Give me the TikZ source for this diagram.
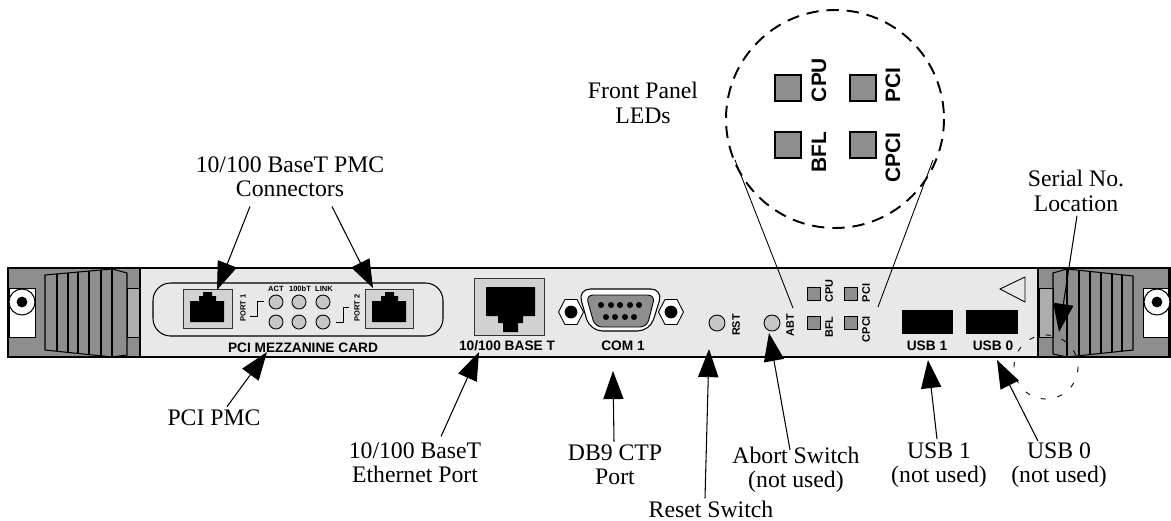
\documentclass[tikz,border=0pt]{standalone}
\usepackage{fontspec}
\setmainfont{Liberation Serif}
\setsansfont{Liberation Sans}
\usetikzlibrary{arrows.meta}
\definecolor{panelgray}{HTML}{E8E8E8}
\definecolor{handlegray}{HTML}{8E8E8E}
\definecolor{bargray}{HTML}{ADADAD}
\definecolor{jackgray}{HTML}{D2D2D2}
\definecolor{ledgray}{HTML}{C6C6C6}
\tikzset{
	callout/.style={line width=0.6pt,-{Triangle[length=16pt,width=11.5pt]}},
	leader/.style={line width=0.5pt},
	caption/.style={inner sep=0pt,align=center,font=\fontsize{13.5}{13.8}\selectfont},
	panellabel/.style={inner sep=0pt,font=\sffamily\bfseries\fontsize{7.8}{10}\selectfont},
	ledlabel/.style={inner sep=0pt,rotate=90,font=\sffamily\bfseries\fontsize{6.2}{7}\selectfont},
	tinylabel/.style={inner sep=0pt,font=\sffamily\bfseries\fontsize{4.3}{5}\selectfont},
	biglabel/.style={inner sep=0pt,rotate=90,font=\sffamily\bfseries\fontsize{11.9}{13}\selectfont},
	led/.style={draw=black,line width=0.5pt,fill=ledgray},
	squareled/.style={draw=black,line width=0.6pt,fill=handlegray},
	jack/.style={draw=black!80,line width=0.5pt,fill=jackgray},
}

\begin{document}
\begin{tikzpicture}[x=0.02cm,y=-0.02cm]
		\useasboundingbox (0, 0) rectangle (1171, 521);
		%%%%% PANEL %%%%%
		\draw[line width=1.7pt,fill=panelgray] (8, 268) rectangle (1169, 357);
		\draw[fill=handlegray,draw=none] (9, 269) rectangle (139, 356);
		\draw[fill=handlegray,draw=none] (1039, 269) rectangle (1168, 356);
		\draw[line width=0.8pt] (140, 268) -- (140, 357);
		\draw[line width=0.8pt] (1038, 268) -- (1038, 357);
		
		%%%%% LEFT HANDLE %%%%%
		\draw[fill=white,line width=0.4pt] (9, 288) rectangle (35, 337);
		\draw[fill=white,line width=0.6pt] (22, 302) circle (13);
		\draw[fill=black] (22, 302) circle (5);
		\draw[fill=bargray,line width=0.4pt] (127, 288) rectangle (139, 337);
		\begin{scope}
			\draw[line width=0.6pt] (45, 275) -- (112, 269) -- (127, 273) -- (127, 355) -- (112, 357) -- (45, 350) -- cycle;
			\clip (45, 275) -- (112, 269) -- (127, 273) -- (127, 355) -- (112, 357) -- (45, 350) -- cycle;
			\foreach \hx in {57,68,78,89,101,112}
				\draw[line width=0.6pt] (\hx, 260) -- (\hx, 365);
		\end{scope}
		
		%%%%% RIGHT HANDLE %%%%%
		\draw[fill=white,line width=0.4pt] (1143, 288) rectangle (1168, 337);
		\draw[fill=white,line width=0.6pt] (1157, 302) circle (13);
		\draw[fill=black] (1157, 302) circle (5);
		\draw[fill=bargray,line width=0.4pt] (1039, 288) rectangle (1053, 337);
		\begin{scope}
			\draw[line width=0.6pt] (1133, 276) -- (1067, 269) -- (1053, 273) -- (1053, 354) -- (1067, 357) -- (1133, 350) -- cycle;
			\clip (1133, 276) -- (1067, 269) -- (1053, 273) -- (1053, 354) -- (1067, 357) -- (1133, 350) -- cycle;
			\foreach \hx in {1067,1079,1090,1101,1112,1122}
				\draw[line width=0.6pt] (\hx, 260) -- (\hx, 365);
		\end{scope}
		
		%%%%% PMC CARD %%%%%
		\draw[line width=0.6pt,rounded corners=10pt] (153, 283) rectangle (443, 336);
		\draw[jack] (183, 289) rectangle (232, 328);
		\draw[jack] (365, 289) rectangle (413, 328);
		\foreach \jx in {0,182}
			\fill[black,shift={(\jx,0)}] (190, 322) -- (190, 301) -- (199, 301) -- (199, 296) -- (203, 296) -- (203, 292) -- (212, 292) -- (212, 296) -- (216, 296) -- (216, 301) -- (224, 301) -- (224, 322) -- cycle;
		\foreach \lx in {276,299,323}{
			\draw[led] (\lx, 302) circle (7);
			\draw[led] (\lx, 322) circle (7);
		}
		\node[tinylabel] (lblAct) at (276, 289) {ACT};
		\node[tinylabel] (lblSpeed) at (300, 289) {100bT};
		\node[tinylabel] (lblLink) at (324, 289) {LINK};
		\node[tinylabel,rotate=90] (lblPortA) at (243, 308) {PORT 1};
		\node[tinylabel,rotate=90] (lblPortB) at (357, 308) {PORT 2};
		\draw[line width=0.5pt] (250, 316) -- (257, 316) -- (257, 301) -- (264, 301);
		\draw[line width=0.5pt] (336, 322) -- (343, 322) -- (343, 307) -- (349, 307);
		\node[panellabel] (lblCard) at (303, 348) {PCI MEZZANINE CARD};
		
		%%%%% ETHERNET %%%%%
		\draw[jack] (474, 278) rectangle (544, 335);
		\fill[black] (486, 287) -- (535, 287) -- (535, 316) -- (523, 316) -- (523, 323) -- (518, 323) -- (518, 332) -- (503, 332) -- (503, 323) -- (498, 323) -- (498, 316) -- (486, 316) -- cycle;
		\node[panellabel] (lblBase) at (507, 346) {10/100 BASE T};
		
		%%%%% COM PORT %%%%%
		\foreach \hx in {571,671}{
			\draw[fill=white,line width=0.5pt,shift={(\hx,312)}] (-12.5, 0) -- (-6, -12.5) -- (6, -12.5) -- (12.5, 0) -- (6, 12.5) -- (-6, 12.5) -- cycle;
			\draw[fill=black] (\hx, 312) circle (6);
		}
		\draw[fill=white,line width=0.6pt,rounded corners=7pt] (578, 289) -- (663, 289) -- (650, 331) -- (590, 331) -- cycle;
		\draw[fill=handlegray,line width=0.5pt,rounded corners=4pt] (586, 295) -- (655, 295) -- (647, 327) -- (595, 327) -- cycle;
		\foreach \dx in {601,611,620,630,639}
			\fill[black] (\dx, 305) circle (3);
		\foreach \dx in {606,615,625,634}
			\fill[black] (\dx, 317) circle (3);
		\node[panellabel] (lblCom) at (623, 346) {COM 1};
		
		%%%%% SWITCHES %%%%%
		\draw[led] (717, 323) circle (8);
		\draw[led] (772, 323) circle (8);
		\node[ledlabel] (lblRst) at (736, 325) {RST};
		\node[ledlabel] (lblAbt) at (790, 325) {ABT};
		
		%%%%% LEDS %%%%%
		\draw[squareled] (807.5, 287.5) rectangle (820.5, 300.5);
		\draw[squareled] (844.5, 287.5) rectangle (857.5, 300.5);
		\draw[squareled] (807.5, 316.5) rectangle (820.5, 329.5);
		\draw[squareled] (844.5, 316.5) rectangle (857.5, 329.5);
		\node[ledlabel] (lblCpu) at (829, 291) {CPU};
		\node[ledlabel] (lblBfl) at (829, 327) {BFL};
		\node[ledlabel] (lblPci) at (866, 293) {PCI};
		\node[ledlabel] (lblCpci) at (866, 329) {CPCI};
		
		%%%%% USB %%%%%
		\fill[black] (902, 310) rectangle (953, 334);
		\fill[black] (966, 310) rectangle (1018, 334);
		\node[panellabel] (lblUsbB) at (927, 346) {USB 1};
		\node[panellabel] (lblUsbA) at (993, 346) {USB 0};
		\draw[line width=0.5pt] (1025, 277) -- (1025, 302) -- (1000, 289) -- cycle;
		\draw[line width=0.5pt,dash pattern=on 3pt off 6.5pt] (1046, 367) circle (32);
		
		%%%%% MAGNIFIED LEDS %%%%%
		\coordinate (magLeft) at (735, 160);
		\coordinate (magRight) at (933, 160);
		\coordinate (abtTop) at (793, 308);
		\coordinate (cpciTop) at (878, 307);
		\draw[line width=1.1pt,dash pattern=on 7pt off 4.5pt] (835, 119) circle (109);
		\draw[leader] (magLeft) -- (abtTop);
		\draw[leader] (magRight) -- (cpciTop);
		\draw[squareled,line width=1pt] (775, 75) rectangle (801, 101);
		\draw[squareled,line width=1pt] (850, 75) rectangle (876, 101);
		\draw[squareled,line width=1pt] (775, 132) rectangle (801, 158);
		\draw[squareled,line width=1pt] (850, 132) rectangle (876, 158);
		\node[biglabel] (magCpu) at (819, 80) {CPU};
		\node[biglabel] (magBfl) at (819, 152) {BFL};
		\node[biglabel] (magPci) at (893, 85) {PCI};
		\node[biglabel] (magCpci) at (893, 158) {CPCI};
		
		%%%%% CAPTIONS %%%%%
		\node[caption] (capLeds) at (643, 103) {Front Panel\\LEDs};
		\node[caption] (capConn) at (290, 177) {10/100 BaseT PMC\\Connectors};
		\node[caption] (capSerial) at (1076, 191) {Serial No.\\Location};
		\node[caption] (capPmc) at (214, 418) {PCI PMC};
		\node[caption] (capEth) at (415, 463) {10/100 BaseT\\Ethernet Port};
		\node[caption] (capDb) at (615, 465) {DB9 CTP\\Port};
		\node[caption] (capRst) at (711, 509) {Reset Switch};
		\node[caption] (capAbt) at (796, 470) {Abort Switch\\(not used)};
		\node[caption] (capUsbB) at (939, 465) {USB 1\\(not used)};
		\node[caption] (capUsbA) at (1059, 465) {USB 0\\(not used)};
		
		%%%%% ARROWS %%%%%
		\coordinate (tipPortA) at (217, 290);
		\coordinate (tipPortB) at (373, 288);
		\coordinate (tipCard) at (267, 352);
		\coordinate (tipBase) at (479, 352);
		\coordinate (tipCom) at (613, 371);
		\coordinate (tipRst) at (709, 349);
		\coordinate (tipAbt) at (769, 333);
		\coordinate (tipUsbB) at (928, 360);
		\coordinate (tipUsbA) at (997, 360);
		\coordinate (tipSerial) at (1059, 332);
		\draw[callout] ([shift={(-40,9)}]capConn.south) -- (tipPortA);
		\draw[callout] ([shift={(42,9)}]capConn.south) -- (tipPortB);
		\draw[callout] ([shift={(13,-3)}]capPmc.north) -- (tipCard);
		\draw[callout] ([shift={(26,-6)}]capEth.north) -- (tipBase);
		\draw[callout] ([shift={(-1,-3)}]capDb.north) -- (tipCom);
		\draw[callout] ([shift={(-6,-2)}]capRst.north) -- (tipRst);
		\draw[callout] ([shift={(-6,3)}]capAbt.north) -- (tipAbt);
		\draw[callout] ([shift={(-2,-3)}]capUsbB.north) -- (tipUsbB);
		\draw[callout] ([shift={(-21,-1)}]capUsbA.north) -- (tipUsbA);
		\draw[callout] ([shift={(1,4)}]capSerial.south) -- (tipSerial);
	\end{tikzpicture}
\end{document}
